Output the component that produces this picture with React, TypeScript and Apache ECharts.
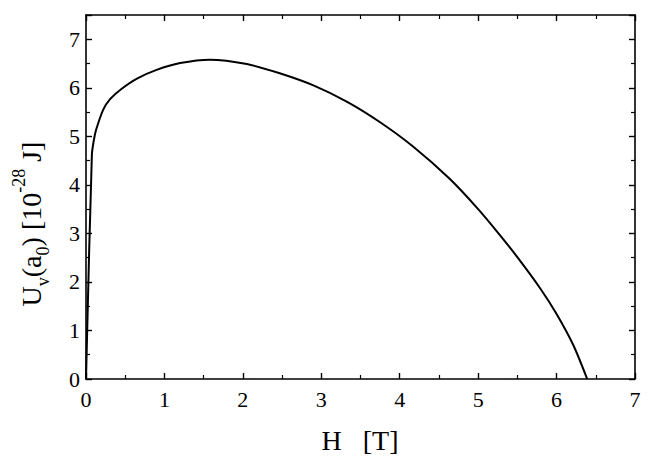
import React, { useEffect, useRef } from "react";
import * as echarts from "echarts";

const fieldH = [0, 0.075, 0.1, 0.128, 0.22, 0.31, 0.455, 0.65, 0.9, 1.2, 1.58, 2.05, 2.47, 2.9, 3.33, 3.75, 4.17, 4.64, 5.0, 5.28, 5.5, 5.79, 6.0, 6.21, 6.39];
const energyU = [0, 4.62, 4.92, 5.13, 5.55, 5.77, 5.98, 6.19, 6.37, 6.51, 6.58, 6.49, 6.3, 6.05, 5.71, 5.29, 4.79, 4.12, 3.5, 2.96, 2.51, 1.87, 1.34, 0.71, 0];
const xTicks = [0, 1, 2, 3, 4, 5, 6, 7];
const yTicks = [0, 1, 2, 3, 4, 5, 6, 7];

const FONT = "Liberation Serif";

export default function App() {
  const ref = useRef<HTMLDivElement>(null);
  useEffect(() => {
    if (!ref.current) return;
    const chart = echarts.init(ref.current, null, { renderer: "svg" });
    const data = fieldH.map((h, i) => [h, energyU[i]]);
    const axisCommon = {
      axisLine: { show: true, onZero: false, lineStyle: { color: "#000", width: 1.6 } },
      axisTick: { show: true, inside: true, length: 6, lineStyle: { color: "#000", width: 1.4 } },
      minorTick: { show: true, splitNumber: 2, length: 4, lineStyle: { color: "#000", width: 1.2 } },
      splitLine: { show: false },
    };
    chart.setOption({
      animation: false,
      backgroundColor: "#fff",
      grid: { left: 86, top: 15, right: 19, bottom: 89, containLabel: false },
      xAxis: [
        {
          type: "value", min: 0, max: 7, interval: 1, position: "bottom",
          ...axisCommon,
          axisLabel: { show: true, margin: 9, color: "#000", fontSize: 22, fontFamily: FONT,
            formatter: (v: number) => (xTicks.includes(v) ? String(v) : "") },
        },
        {
          type: "value", min: 0, max: 7, interval: 1, position: "top",
          ...axisCommon, axisLabel: { show: false },
        },
      ],
      yAxis: [
        {
          type: "value", min: 0, max: 7.5, interval: 1, position: "left",
          ...axisCommon,
          axisLabel: { show: true, margin: 6, color: "#000", fontSize: 22, fontFamily: FONT,
            formatter: (v: number) => (yTicks.includes(v) ? String(v) : "") },
        },
        {
          type: "value", min: 0, max: 7.5, interval: 1, position: "right",
          ...axisCommon, axisLabel: { show: false },
        },
      ],
      series: [
        {
          type: "line",
          data,
          xAxisIndex: 0,
          yAxisIndex: 0,
          showSymbol: false,
          smooth: 0.3,
          lineStyle: { color: "#000", width: 2 },
        },
      ],
      graphic: [
        {
          type: "text",
          x: 360,
          y: 440,
          style: {
            text: "H   [T]",
            fill: "#000",
            fontSize: 28,
            fontFamily: FONT,
            align: "center",
            verticalAlign: "middle",
          },
        },
        {
          type: "text",
          x: 31,
          y: 224,
          rotation: Math.PI / 2,
          style: {
            text: "{n|U}{s|v}{n|(a}{s|0}{n|) [10}{p|-28}{n| J]}",
            fill: "#000",
            fontFamily: FONT,
            align: "center",
            verticalAlign: "middle",
            rich: {
              n: { fontSize: 28, fontFamily: FONT, fill: "#000", lineHeight: 42 },
              s: { fontSize: 18, fontFamily: FONT, fill: "#000", lineHeight: 14, verticalAlign: "bottom" },
              p: { fontSize: 18, fontFamily: FONT, fill: "#000", lineHeight: 6, verticalAlign: "top" },
            },
          },
        },
      ],
    });
    return () => chart.dispose();
  }, []);
  return <div ref={ref} style={{ width: 654, height: 468, position: "absolute", left: 0, top: 0 }} />;
}
